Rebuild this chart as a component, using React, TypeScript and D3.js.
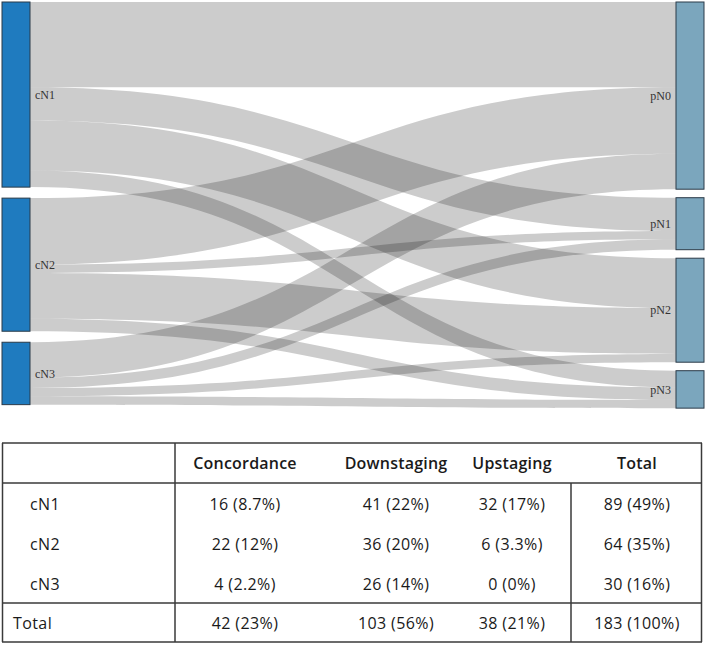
import { useEffect, useRef } from 'react';
import * as d3 from 'd3';

// clinical (left) and pathological (right) nodal stage
const sources = ['cN1', 'cN2', 'cN3'];
const targets = ['pN0', 'pN1', 'pN2', 'pN3'];
// patients moving from each clinical stage (row) to each pathological stage (column)
const flows = [
  [41, 16, 24, 8],
  [32, 4, 22, 6],
  [17, 5, 4, 4],
];

const tableHeaders = ['Concordance', 'Downstaging', 'Upstaging', 'Total'];

const W = 709;
const H = 646;

const App = () => {
  const svgRef = useRef<SVGSVGElement | null>(null);

  useEffect(() => {
    const svg = d3.select(svgRef.current);
    svg.selectAll('*').remove();

    const total = d3.sum(flows.flat());
    const ky = d3.scaleLinear().domain([0, total]).range([0, total * 2.08]);

    const nodeW = 28;
    const xLeft = 2;
    const xRight = 676;
    const top = 2;
    const padL = 11;
    const padR = 8.5;

    const srcTotals = flows.map(r => d3.sum(r));
    const tgtTotals = targets.map((_, j) => d3.sum(flows, r => r[j]));

    const stack = (vals: number[], pad: number) => {
      let y = top;
      return vals.map(v => {
        const n = { y0: y, y1: y + ky(v) };
        y = n.y1 + pad;
        return n;
      });
    };
    const leftNodes = stack(srcTotals, padL);
    const rightNodes = stack(tgtTotals, padR);

    // link bands: sorted by target at the source end, by source at the target end
    const srcOffset = leftNodes.map(n => n.y0);
    const tgtOffset = rightNodes.map(n => n.y0);
    const links: { sy0: number; sy1: number; ty0: number; ty1: number }[] = [];
    flows.forEach((row, i) => {
      row.forEach(v => {
        const h = ky(v);
        links.push({ sy0: srcOffset[i], sy1: srcOffset[i] + h, ty0: 0, ty1: 0 });
        srcOffset[i] += h;
      });
    });
    targets.forEach((_, j) => {
      sources.forEach((__, i) => {
        const l = links[i * targets.length + j];
        const h = ky(flows[i][j]);
        l.ty0 = tgtOffset[j];
        l.ty1 = tgtOffset[j] + h;
        tgtOffset[j] += h;
      });
    });

    const x0 = xLeft + nodeW;
    const x1 = xRight;
    const xm = (x0 + x1) / 2;
    const band = (l: typeof links[number]) => {
      const p = d3.path();
      p.moveTo(x0, l.sy0);
      p.bezierCurveTo(xm, l.sy0, xm, l.ty0, x1, l.ty0);
      p.lineTo(x1, l.ty1);
      p.bezierCurveTo(xm, l.ty1, xm, l.sy1, x0, l.sy1);
      p.closePath();
      return p.toString();
    };

    const g = svg.append('g');

    g.selectAll('.link')
      .data(links)
      .enter()
      .append('path')
      .attr('class', 'link')
      .attr('d', band)
      .attr('fill', 'rgba(0,0,0,0.2)');

    g.selectAll('.src')
      .data(leftNodes)
      .enter()
      .append('rect')
      .attr('x', xLeft)
      .attr('y', d => d.y0)
      .attr('width', nodeW)
      .attr('height', d => d.y1 - d.y0)
      .attr('fill', '#1f7bbf')
      .attr('stroke', '#2b3a48')
      .attr('stroke-width', 1);

    g.selectAll('.tgt')
      .data(rightNodes)
      .enter()
      .append('rect')
      .attr('x', xRight)
      .attr('y', d => d.y0)
      .attr('width', nodeW)
      .attr('height', d => d.y1 - d.y0)
      .attr('fill', '#7ba6bd')
      .attr('stroke', '#2b3a48')
      .attr('stroke-width', 1);

    const nodeFont = '"Liberation Serif", serif';
    g.selectAll('.srcLabel')
      .data(leftNodes)
      .enter()
      .append('text')
      .attr('x', xLeft + nodeW + 5)
      .attr('y', d => (d.y0 + d.y1) / 2)
      .attr('dy', '0.35em')
      .style('font-family', nodeFont)
      .style('font-size', '12px')
      .attr('fill', '#333')
      .text((_, i) => sources[i]);

    g.selectAll('.tgtLabel')
      .data(rightNodes)
      .enter()
      .append('text')
      .attr('x', xRight - 5)
      .attr('y', d => (d.y0 + d.y1) / 2)
      .attr('dy', '0.35em')
      .attr('text-anchor', 'end')
      .style('font-family', nodeFont)
      .style('font-size', '12px')
      .attr('fill', '#333')
      .text((_, i) => targets[i]);

    // summary table: concordance = same stage, downstaging = lower, upstaging = higher
    const counts = flows.map((row, i) => {
      const same = i + 1;
      const conc = row[same];
      const down = d3.sum(row.slice(0, same));
      const up = d3.sum(row.slice(same + 1));
      return [conc, down, up, conc + down + up];
    });
    const totalsRow = [0, 1, 2, 3].map(k => d3.sum(counts, r => r[k]));
    const pct = d3.format('.2~r');
    const cell = (v: number) => `${v} (${pct((v / total) * 100)}%)`;
    const rows = [...counts, totalsRow];
    const rowLabels = [...sources, 'Total'];

    const t = svg.append('g');
    const tblFont = '"Open Sans", sans-serif';
    const tblSize = '16px';
    const colX = [245, 396, 512, 637];
    const rowY = [504, 544, 584, 623];
    const lineColor = '#3a3a3a';
    const line = (xa: number, ya: number, xb: number, yb: number) =>
      t.append('line')
        .attr('x1', xa).attr('y1', ya).attr('x2', xb).attr('y2', yb)
        .attr('stroke', lineColor)
        .attr('stroke-width', 1.5);

    line(2, 443, 702, 443);
    line(2, 483, 702, 483);
    line(2, 603, 702, 603);
    line(2, 642, 702, 642);
    line(2.5, 443, 2.5, 642);
    line(701.5, 443, 701.5, 642);
    line(175, 443, 175, 642);
    line(571, 483, 571, 642);

    t.selectAll('.hdr')
      .data(tableHeaders)
      .enter()
      .append('text')
      .attr('x', (_, i) => colX[i])
      .attr('y', 463)
      .attr('dy', '0.35em')
      .attr('text-anchor', 'middle')
      .style('font-family', tblFont)
      .style('font-size', tblSize)
      .style('font-weight', 600)
      .style('letter-spacing', '0.2px')
      .attr('fill', '#1a1a1a')
      .text(d => d);

    rows.forEach((r, ri) => {
      t.append('text')
        .attr('x', ri < sources.length ? 30 : 13)
        .attr('y', rowY[ri])
        .attr('dy', '0.35em')
        .style('font-family', tblFont)
        .style('font-size', tblSize)
        .style('letter-spacing', '0.4px')
        .attr('fill', '#1a1a1a')
        .text(rowLabels[ri]);
      t.selectAll(null)
        .data(r)
        .enter()
        .append('text')
        .attr('x', (_, i) => colX[i])
        .attr('y', rowY[ri])
        .attr('dy', '0.35em')
        .attr('text-anchor', 'middle')
        .style('font-family', tblFont)
        .style('font-size', tblSize)
        .style('letter-spacing', '0.4px')
        .attr('fill', '#1a1a1a')
        .text(d => cell(d));
    });
  }, []);

  return (
    <svg
      ref={svgRef}
      width={W}
      height={H}
      style={{ position: 'absolute', left: 0, top: 0, background: '#fff' }}
    />
  );
};

export default App;
